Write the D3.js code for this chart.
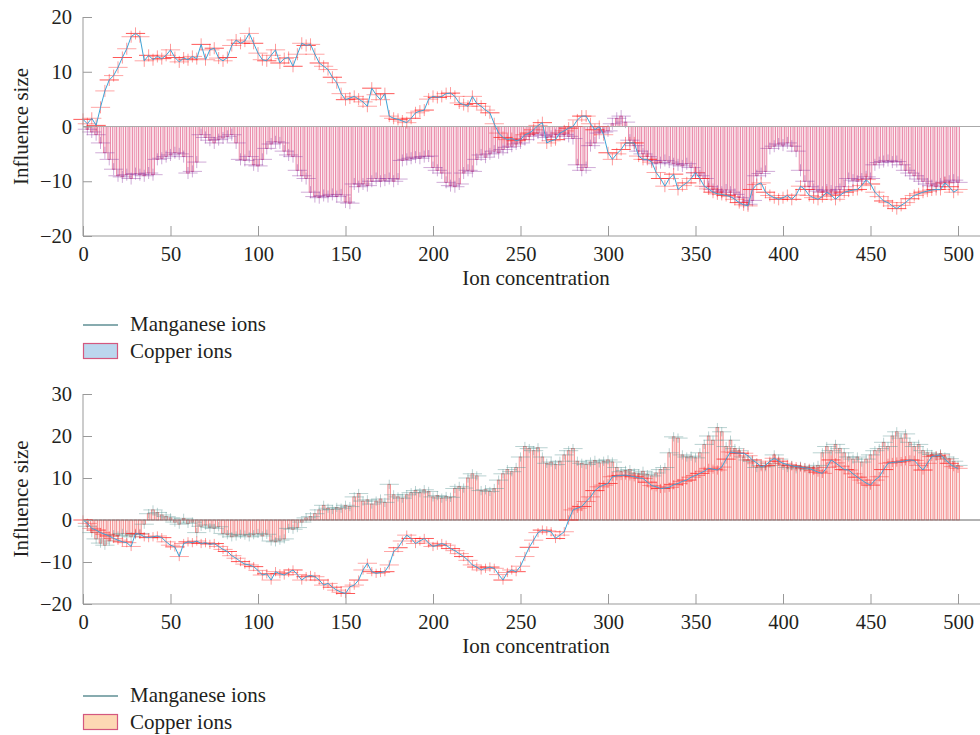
<!DOCTYPE html>
<html><head><meta charset="utf-8">
<script src="https://cdn.jsdelivr.net/npm/d3@7"></script>
<style>
body{margin:0;background:#fff}
text{font-family:"Liberation Serif","DejaVu Serif",serif;fill:#231f20}
</style></head>
<body><svg id="c" width="980" height="735"></svg>
<script>
// ---------- data ----------
const xTickValues = [0,50,100,150,200,250,300,350,400,450,500];
const topYTicks = [-20,-10,0,10,20];
const botYTicks = [-20,-10,0,10,20,30];
const seriesNames = ["Manganese ions","Copper ions"];

// x grid (ion concentration) for the line: 0..500 step 2.5 ; bars: 2.5..500 step 2.5
const lineX = d3.range(0, 500.001, 2.5);
const barX = d3.range(2.5, 500.001, 2.5);

// Panel 1 — Manganese ions (line)
const topManganese = [
1.3,0.5,1.5,0.2,3.5,6.5,8.5,9.3,10.8,12.6,
14.2,16.4,17,16.4,12,13,12.2,12.8,12.4,13,
14,12.6,11.8,12.5,12.2,12.8,12.4,15,12.2,14,
14.3,12.5,12,12.6,14.8,15.8,15.2,15.6,17,15.2,
13.4,12.2,12,13,14,11.6,12.4,12.6,11,13.2,
15.2,14.8,15,13.2,11.6,11,10.4,9,8,6,
4.9,5.2,5.5,5,4.5,3.7,7,5.8,4.9,6,
1.9,1.5,1.3,1,0.7,1.5,2.5,2.8,3,5,
5.5,5.3,5.5,6,6.1,5.5,4.3,4,3.7,5.5,
4.2,3.7,3,2.5,0.5,-1.2,-2,-2.4,-2.2,-2.6,
-2.4,-1.5,-1.2,-0.6,0.2,0.7,-3,-2.6,-2.4,-1.2,
-0.8,-0.3,0,1.2,1.9,1.9,0.5,-0.6,0,-1.5,
-4.8,-6,-5,-4.2,-3,-3,-3,-5.4,-6,-6,
-6.5,-8.4,-9.5,-10.9,-9.5,-8.7,-11.5,-10.8,-10.3,-9.5,
-8.4,-9.5,-10.9,-11.4,-12,-12.3,-12.4,-12.6,-12.8,-13.3,
-13.9,-14.3,-14.5,-11.5,-10.6,-10.3,-12,-12.6,-13,-13.3,
-13,-12.6,-13.3,-12.5,-10.9,-11.5,-12.6,-13,-13.3,-12.8,
-12,-12.5,-13.3,-12.6,-12,-11.8,-11.6,-11.5,-10.8,-9.7,
-10.5,-12,-12.8,-13.6,-13.9,-14.5,-15,-14.4,-13.9,-13.2,
-12.6,-12.3,-12,-11.8,-11.6,-11.5,-11.5,-10.3,-11,-12,-11.5];

// Panel 1 — Copper ions (bars)
const topCopper = [
-0.5,-1,-1.5,-3,-4.8,-6,-7.8,-9,-9.2,-8.8,
-9.5,-8.6,-8.8,-9,-8.5,-8.8,-6,-5.8,-5.5,-5.2,
-4.8,-5,-5.5,-8.5,-8.2,-6.5,-1.5,-2,-2.5,-3,
-2.4,-2.1,-1.8,-1.5,-3,-6,-6.2,-5.5,-7,-7.2,
-6,-4,-3.2,-2.8,-3,-4.5,-5.2,-5.5,-8,-9,
-9.5,-12,-12.8,-13,-12.6,-12.8,-12.4,-12.8,-12.5,-13.8,
-14,-10.5,-11,-10.5,-10.8,-10,-9.5,-10,-9.8,-9.5,
-10,-9.6,-6.2,-6,-5.8,-5.6,-5.8,-5.5,-5.4,-7.5,
-8,-8.5,-10.2,-10.8,-11,-10.5,-8.5,-8,-8.2,-6,
-5.2,-5.6,-5,-4.5,-4.8,-4.2,-3.8,-3.6,-3.2,-3,
-2.4,-1.8,-1.5,-1.2,-1.6,-2,-1.8,-1.5,-1.2,-1.5,
-1.8,-2.2,-7,-8,-7.5,-3.5,-3,-1.2,-1,-0.8,
0.5,1.5,1.9,0.8,-2.5,-3.5,-4.5,-5,-5.5,-6.2,
-6.8,-6.6,-6.2,-6.5,-6.8,-7,-7.2,-6.8,-7.5,-8.5,
-9,-9.5,-11,-11.5,-11.8,-12,-11.6,-12,-12.4,-13,
-13.8,-14.2,-13.5,-9,-8.6,-8.2,-4,-3.6,-3.2,-3.4,
-3,-3.6,-4.5,-8,-10,-11,-11.5,-11.8,-12,-11.6,
-11.8,-12.2,-11.5,-11,-9.5,-9.8,-10,-9.6,-9.2,-9.5,
-7,-6.6,-6.4,-6.2,-6.5,-6.4,-7,-8,-8.5,-9,
-9.6,-10,-10.5,-10.8,-11,-10.5,-10.2,-10,-9.8,-10.2];

// Panel 2 — Manganese ions (line)
const botManganese = [
0,-0.8,-2,-2.4,-3,-3.4,-3.8,-4.4,-4.8,-5.2,
-5.4,-6.3,-3.2,-3.4,-4,-4.2,-4,-3.8,-4.2,-5.2,
-6,-6.4,-8.7,-5.6,-5.2,-5.4,-5,-5.6,-5.4,-5.8,
-5.6,-6.3,-7,-7.5,-8.5,-9.1,-9.9,-10.5,-10.7,-11.1,
-12,-13.1,-12.8,-14.3,-12.3,-12.8,-13.1,-12.5,-11.9,-13,
-14.3,-13.5,-13.2,-13.5,-14.3,-15.5,-15.1,-16,-16.7,-17.2,
-17.5,-15.9,-15.5,-14.3,-11.9,-10.3,-12.3,-12.7,-12.5,-12.3,
-10.7,-7.5,-6.6,-5,-3.6,-4.4,-5.6,-5,-4.4,-5.5,
-6.3,-6,-5.6,-6,-6.8,-7.3,-8,-8.7,-9.6,-10.7,
-11.2,-11.9,-11.5,-11.2,-11.5,-13,-14.3,-12.5,-11.9,-12.3,
-11,-8.7,-6.5,-4.8,-3,-2.4,-2.6,-2.8,-4.4,-3.6,
-2.8,0,2.4,2.8,3.2,4.4,5.5,7,7.9,8.3,
8.7,10.3,10.5,10.6,10.7,10.5,10.3,10,9.9,9,
8.2,7.9,7.5,7.6,7.8,8.4,8.7,9.2,9.5,10.2,
10.6,11.1,11.6,12.3,12.1,11.9,12.6,14.5,16.2,16,
15.9,15.9,15.3,14.3,13.6,12.7,13,14,14.7,14,
13.5,13.2,12.9,12.7,12.6,12.4,12.3,11.8,11.4,11.1,
12.5,14.3,13.6,12.8,12,11.9,11,10.2,9.5,8.8,
8.3,9.5,10.3,12,13.5,13.7,13.8,13.9,14.1,14.3,
14.2,13,11.9,13.5,15.1,15.3,15.5,14.5,13.5,12.7,12.3];

// Panel 2 — Copper ions (bars)
const botCopper = [
-1.5,-3,-4.5,-5.5,-6,-5,-3.5,-3.8,-3.2,-3.6,
-4,-3.5,-3.2,-1,1.5,2.4,1.8,1.2,0.8,0.5,
-0.5,-1,0.4,-0.8,-0.5,-3,-1.5,-1.2,-1.8,-2,
-1.6,-3.2,-3.5,-4,-3.8,-3.4,-3.6,-4,-3.5,-3.2,
-3.8,-3.4,-5,-5.2,-4.8,-4.5,-2,-2.2,-1.8,-0.5,
0.5,0.8,1.5,2.4,3.5,2.8,2.5,3,2.8,3.5,
3.2,5.5,6.3,4.5,4.8,3.8,4.5,5,4.2,8.5,
6,5.5,5.2,6,6.5,7,6.5,7.2,6.8,5.5,
5.8,5.2,5.6,5.4,7.5,8,7.6,10,11,10.5,
7,7.2,6.8,7.5,9.5,11,12,11.5,12.5,15,
17.5,17,16.5,17.2,15,13.5,13.8,13.2,14,15.5,
16.5,17,14,13.5,13.2,13.8,14.2,13.6,14,14.3,
13.8,12.5,11.5,11.8,12,11.2,11,11.6,10.8,10.5,
11.2,12,12.5,16,19.8,19.5,15.5,15,15.2,14.8,
16,18,20,19,22,21,17.5,19,17,16.5,
15,14.3,14,12.5,13,12.7,13.5,15.5,14.5,13,
12.5,13,12.2,12.8,12.5,12,12.6,13,16,17.5,
16.5,18,17,16,15,14.5,15,13.8,14.5,15.5,
16.5,17,18.5,17.5,20,21,19.5,20.5,18.5,17.5,
18,16.5,16,15.6,15.2,15.8,15,14.6,14,13];

// error-bar half sizes (units)
const errX = 5.5, errY = 1.1;

// ---------- drawing ----------
const svg = d3.select("#c");
const x0 = 83, x500 = 958, xEdge = 980;
const FS = 20.5;

function panel(cfg){
  const g = svg.append("g");
  const x = d3.scaleLinear().domain([0,500]).range([x0, x500]);
  const y = d3.scaleLinear().domain(cfg.yDomain).range([cfg.yBottom, cfg.yTop]);
  const bw = (x(2.5)-x(0))*0.62;

  // bars
  g.append("g").selectAll("rect").data(cfg.bars).join("rect")
    .attr("x",(d,i)=>x(barX[i])-bw/2)
    .attr("y",d=>Math.min(y(d),y(0)))
    .attr("width",bw)
    .attr("height",d=>Math.abs(y(d)-y(0)))
    .attr("fill",cfg.barFill).attr("fill-opacity",0.5)
    .attr("stroke",cfg.barStroke).attr("stroke-width",0.7).attr("stroke-opacity",0.85);

  // bar error bars
  const be = g.append("g").attr("stroke",cfg.barErr).attr("stroke-opacity",0.4).attr("stroke-width",1);
  be.selectAll("line.h").data(cfg.bars).join("line").attr("class","h")
    .attr("x1",(d,i)=>x(barX[i]-errX)).attr("x2",(d,i)=>x(barX[i]+errX))
    .attr("y1",d=>y(d)).attr("y2",d=>y(d));
  be.selectAll("line.v").data(cfg.bars).join("line").attr("class","v")
    .attr("x1",(d,i)=>x(barX[i])).attr("x2",(d,i)=>x(barX[i]))
    .attr("y1",d=>y(d-errY)).attr("y2",d=>y(d+errY));

  // zero line
  g.append("line").attr("x1",x0).attr("x2",xEdge).attr("y1",y(0)).attr("y2",y(0))
    .attr("stroke",cfg.zeroColor).attr("stroke-width",1);

  // line error bars
  const le = g.append("g").attr("stroke","#ff2020").attr("stroke-width",1);
  le.selectAll("line.h").data(cfg.line).join("line").attr("class","h")
    .attr("stroke-opacity",(d,i)=>i%3===0?0.75:0.4)
    .attr("x1",(d,i)=>x(lineX[i]-errX)).attr("x2",(d,i)=>x(lineX[i]+errX))
    .attr("y1",d=>y(d)).attr("y2",d=>y(d));
  le.selectAll("line.v").data(cfg.line).join("line").attr("class","v")
    .attr("stroke-opacity",0.45)
    .attr("x1",(d,i)=>x(lineX[i])).attr("x2",(d,i)=>x(lineX[i]))
    .attr("y1",d=>y(d-errY)).attr("y2",d=>y(d+errY));

  // line
  g.append("path").datum(cfg.line)
    .attr("fill","none").attr("stroke","#3fa3d6").attr("stroke-width",1)
    .attr("d",d3.line().x((d,i)=>x(lineX[i])).y(d=>y(d)));

  // axes
  const axCol = "#999";
  const xa = g.append("g").attr("transform",`translate(0,${cfg.yBottom})`)
    .call(d3.axisBottom(x).tickValues(xTickValues).tickSize(-10).tickPadding(9).tickFormat(d3.format("d")));
  xa.select(".domain").remove();
  xa.selectAll(".tick line").attr("stroke",axCol);
  xa.selectAll(".tick text").attr("font-size",FS).attr("dy","0.78em").attr("fill","#231f20");
  g.append("line").attr("x1",x0).attr("x2",xEdge).attr("y1",cfg.yBottom).attr("y2",cfg.yBottom).attr("stroke",axCol);

  const ya = g.append("g").attr("transform",`translate(${x0},0)`)
    .call(d3.axisLeft(y).tickValues(cfg.yTicks).tickSize(-9).tickPadding(11).tickFormat(d=>d<0?"\u2212"+Math.abs(d):d));
  ya.select(".domain").attr("stroke",axCol).attr("d",`M0,${cfg.yTop}V${cfg.yBottom}`);
  ya.selectAll(".tick line").attr("stroke",axCol);
  ya.selectAll(".tick text").attr("font-size",FS).attr("fill","#231f20");

  // titles
  g.append("text").attr("x",536).attr("y",cfg.yBottom+49).attr("text-anchor","middle")
    .attr("font-size",FS+0.5).text("Ion concentration");
  g.append("text").attr("transform",`translate(28,${(cfg.yTop+cfg.yBottom)/2}) rotate(-90)`)
    .attr("text-anchor","middle").attr("font-size",FS+0.5).text("Influence size");

  // legend
  const L = cfg.legendY;
  g.append("line").attr("x1",83).attr("x2",118).attr("y1",L).attr("y2",L)
    .attr("stroke","#5f8f94").attr("stroke-width",1.5);
  g.append("text").attr("x",130).attr("y",L+6).attr("font-size",FS+0.5).text(seriesNames[0]);
  g.append("rect").attr("x",83.5).attr("y",L+18.5).attr("width",34).attr("height",15)
    .attr("fill",cfg.legendFill).attr("stroke","#d4587f").attr("stroke-width",1.2);
  g.append("text").attr("x",130).attr("y",L+33).attr("font-size",FS+0.5).text(seriesNames[1]);
}

panel({yDomain:[-20,20], yTop:17, yBottom:236, yTicks:topYTicks,
  bars:topCopper, line:topManganese,
  barFill:"#f2b8cc", barStroke:"#e0507e", barErr:"#8a2d9a", zeroColor:"#aaa",
  legendY:325, legendFill:"#bcd7ee"});
panel({yDomain:[-20,30], yTop:394, yBottom:604, yTicks:botYTicks,
  bars:botCopper, line:botManganese,
  barFill:"#f9c4c4", barStroke:"#f05a5a", barErr:"#4f8f8c", zeroColor:"#666",
  legendY:696, legendFill:"#fdd8b4"});
</script>
</body></html>
